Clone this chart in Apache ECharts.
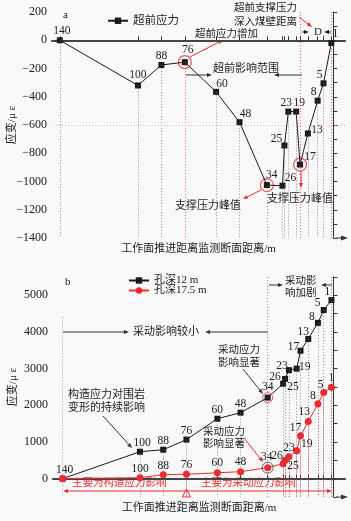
<!DOCTYPE html>
<html>
<head>
<meta charset="utf-8">
<script src="https://cdn.jsdelivr.net/npm/echarts@6/dist/echarts.min.js"></script>
<style>
html,body{margin:0;padding:0;background:#f9f9f9;}
#main{width:351px;height:521px;}
</style>
</head>
<body>
<div id="main"></div>
<script>
var FONT = '"Liberation Serif","Noto Sans CJK SC",serif';
var RED = '#ee2a2f';
var DARK = '#1a1a1a';

// 图a 超前应力
var distA = [140, 100, 88, 76, 60, 48, 34, 26, 25, 23, 19, 17, 13, 8, 5, 1];
var strainA = [0, -320, -175, -155, -365, -580, -1025, -1030, -745, -505, -505, -880, -660, -428, -305, -20];

// 图b 孔深12 m / 孔深17.5 m
var distB = [140, 100, 88, 76, 60, 48, 34, 26, 25, 23, 19, 17, 13, 8, 5, 1];
var strainB12 = [0, 735, 790, 1065, 1635, 1800, 2210, 2590, 2720, 2960, 3000, 3490, 3810, 4250, 4600, 4870];
var strainB175 = [0, 25, 110, 120, 160, 190, 300, 410, 500, 600, 760, 1170, 1560, 2040, 2350, 2490];

var circledA = [76, 34, 17];
var circledB = [34];

// label offsets (style only)
var offA = [[2,-9],[0,-10],[0,-9],[3,-12],[6,-8],[6,-8],[5,-10],[8,-8],[-8,-6],[-2,-9],[3,-9],[10,-8],[9,-3],[-4,-9],[-4,-8],[4,-9]];
var offB12 = [null,[2,-9],[0,-9],[0,-9],[0,-9],[0,-9],[0,-11],[-8,-7],[8,8],[-7,-4],[8,-2],[-7,-4],[-5,-7],[-6,-6],[-6,-7],[-4,-8]];
var offB175 = [[2,-9],[0,-9],[0,-9],[0,-9],[0,-10],[0,-10],[-1,-11],[-6,-8],[8,6],[0,-9],[10,-7],[-5,-8],[-4,-9],[-5,-8],[-3,-8],[0,-9]];

function pts(dist, vals, offs){
    var out = [];
    for (var i = 0; i < dist.length; i++) {
        var o = offs[i];
        out.push({value: [dist[i], vals[i]], label: o ? {offset: o} : {show: false}});
    }
    return out;
}
function pick(dist, vals, keys){
    var out = [];
    for (var i = 0; i < dist.length; i++) {
        if (keys.indexOf(dist[i]) >= 0) out.push([dist[i], vals[i]]);
    }
    return out;
}
function drop(d, top, bottom, color){
    return [{coord: [d, top], lineStyle: {color: color, type: [1, 2], width: 0.8, opacity: 0.9}}, {coord: [d, bottom]}];
}

// drop lines, chart a
var dropA = [];
for (var i = 0; i < distA.length; i++) {
    var d = distA[i];
    if (d == 76) dropA.push(drop(d, strainA[i], -1400, RED));
    else if (d == 17 || d == 1) dropA.push(drop(d, 200, -1400, RED));
    else dropA.push(drop(d, strainA[i], -1400, '#666'));
}
dropA.push({yAxis: -600, lineStyle: {color: '#f2a0a0', type: [1, 2], width: 0.8}});

// drop lines, chart b
var dropB12 = [], dropB175 = [];
for (var i = 0; i < distB.length; i++) {
    var d = distB[i];
    if (d == 140) dropB12.push(drop(d, 4400, -500, '#888'));
    else if (d == 34 || d == 1) dropB12.push(drop(d, 5500, -500, '#666'));
    else dropB12.push(drop(d, strainB12[i], -500, '#666'));
    if (d == 76 || d <= 26) dropB175.push(drop(d, strainB175[i], -500, RED));
}

function arrow(x1, y1, x2, y2, color, h, w){
    var a = Math.atan2(y2 - y1, x2 - x1);
    h = h || 5; w = w || 2;
    var bx = x2 - h * Math.cos(a), by = y2 - h * Math.sin(a);
    var px = -Math.sin(a) * w, py = Math.cos(a) * w;
    return [
        {type: 'line', shape: {x1: x1, y1: y1, x2: bx, y2: by}, style: {stroke: color, lineWidth: 1}},
        {type: 'polygon', shape: {points: [[x2, y2], [bx + px, by + py], [bx - px, by - py]]}, style: {fill: color}}
    ];
}
function txt(x, y, s, color, size){
    return {type: 'text', x: x, y: y, style: {text: s, fill: color || DARK, fontSize: size || 11, fontFamily: FONT, align: 'left', verticalAlign: 'middle'}};
}

var g = [];
// axis arrowheads
g = g.concat(arrow(336, 238, 348, 238, '#333', 7, 2.5));
g = g.concat(arrow(336, 497, 348, 497, '#333', 7, 2.5));
// chart a notes
g.push(txt(63, 15, 'a', DARK, 11));
g.push(txt(234, 8, '超前支撑压力', DARK, 10.5));
g.push(txt(234, 22, '深入煤壁距离', DARK, 10.5));
g = g.concat(arrow(299, 17, 312, 27, RED));
g.push(txt(314, 32, 'D', DARK, 11));
g = g.concat(arrow(302, 32, 309, 32, DARK));
g = g.concat(arrow(331, 32, 324, 32, DARK));
g.push(txt(195, 34, '超前应力增加', DARK, 10.5));
g = g.concat(arrow(190, 57, 223, 40, RED));
g.push(txt(213, 69, '超前影响范围', DARK, 11));
g = g.concat(arrow(186, 75, 212, 75, '#333'));
g = g.concat(arrow(302, 75, 274, 75, '#333'));
g.push(txt(175, 206, '支撑压力峰值', DARK, 11));
g = g.concat(arrow(261, 190, 243, 199, RED));
g.push(txt(267, 199, '支撑压力峰值', DARK, 11));
g = g.concat(arrow(301, 171, 301, 188, RED));
// chart b notes
g.push(txt(65, 282, 'b', DARK, 11));
g.push(txt(133, 332, '采动影响较小', DARK, 11));
g = g.concat(arrow(63, 332, 129, 332, '#333'));
g = g.concat(arrow(268, 332, 205, 332, '#333'));
g.push(txt(285, 281, '采动影', DARK, 10.5));
g.push(txt(285, 293, '响加剧', DARK, 10.5));
g = g.concat(arrow(269, 285, 283, 285, '#333'));
g = g.concat(arrow(332, 285, 321, 285, '#333'));
g.push(txt(218, 350, '采动应力', DARK, 10.5));
g.push(txt(218, 363, '影响显著', DARK, 10.5));
g = g.concat(arrow(243, 369, 263, 394, '#333'));
g.push(txt(203, 432, '采动应力', DARK, 10.5));
g.push(txt(203, 444, '影响显著', DARK, 10.5));
g = g.concat(arrow(244, 438, 263, 462, RED));
g.push(txt(68, 395, '构造应力对围岩', DARK, 11));
g.push(txt(68, 408, '变形的持续影响', DARK, 11));
g = g.concat(arrow(103, 416, 132, 448, '#333'));
g.push(txt(72, 483, '主要为构造应力影响', RED, 10.5));
g = g.concat(arrow(185, 491, 63, 491, RED));
g.push(txt(201, 483, '主要为采动应力影响', RED, 10.5));
g = g.concat(arrow(185, 491, 332, 491, RED));

function xAx(gi, min, max, ticks){
    return {
        type: 'value', gridIndex: gi, inverse: true, min: min, max: max,
        axisLine: {show: true, lineStyle: {color: '#444', width: 2}},
        axisTick: {show: true, inside: true, length: 4, customValues: ticks, lineStyle: {color: '#333'}},
        axisLabel: {show: false},
        splitLine: {show: false},
        name: '工作面推进距离监测断面距离/m', nameLocation: 'middle', nameGap: 6,
        nameTextStyle: {fontFamily: FONT, fontSize: 11, color: DARK, verticalAlign: 'top'}
    };
}
function yAx(gi, min, max, step, labelStep){
    return {
        type: 'value', gridIndex: gi, min: min, max: max, interval: step,
        axisLine: {show: true, lineStyle: {color: '#333', width: 1}},
        axisTick: {show: true, inside: true, length: 4, lineStyle: {color: '#333'}},
        axisLabel: {fontFamily: FONT, fontSize: 12, color: DARK, margin: 5,
            formatter: function(v){ return v % labelStep === 0 ? String(v).replace('-', '\u2212') : ''; }},
        splitLine: {show: false},
        name: '应变/μ ε', nameLocation: 'middle', nameGap: 34, nameRotate: 90, nameMoveOverlap: false,
        nameTextStyle: {fontFamily: FONT, fontSize: 11, color: DARK}
    };
}

var labelBase = {show: true, position: 'inside', fontFamily: FONT, fontSize: 11.5, color: DARK,
    formatter: function(p){ return p.value[0]; }};

var option = {
    backgroundColor: '#f9f9f9',
    animation: false,
    textStyle: {fontFamily: FONT},
    grid: [
        {left: 52, top: 12, width: 293, height: 226, outerBoundsMode: 'none', containLabel: false},
        {left: 53, top: 277, width: 292, height: 220, outerBoundsMode: 'none', containLabel: false}
    ],
    legend: [
        {data: ['超前应力'], left: 102, top: 10, itemWidth: 20, itemHeight: 8, itemGap: 4,
            textStyle: {fontFamily: FONT, fontSize: 11.5, color: DARK}},
        {data: ['孔深12 m', '孔深17.5 m'], orient: 'vertical', left: 123, top: 270, itemWidth: 20, itemHeight: 8, itemGap: -1,
            textStyle: {fontFamily: FONT, fontSize: 11, color: DARK}}
    ],
    xAxis: [xAx(0, -6, 144, distA), xAx(1, -6, 145, distB)],
    yAxis: [yAx(0, -1400, 200, 100, 200), yAx(1, -500, 5500, 500, 1000)],
    graphic: g,
    series: [
        {
            name: '超前应力', type: 'line', xAxisIndex: 0, yAxisIndex: 0,
            data: pts(distA, strainA, offA),
            symbol: 'rect', symbolSize: 6, color: DARK,
            lineStyle: {color: DARK, width: 1},
            label: labelBase,
            markLine: {silent: true, symbol: 'none', label: {show: false}, data: dropA}
        },
        {
            type: 'scatter', xAxisIndex: 0, yAxisIndex: 0, silent: true,
            data: pick(distA, strainA, circledA),
            symbol: 'circle', symbolSize: 13,
            itemStyle: {color: 'transparent', borderColor: RED, borderWidth: 1.2}
        },
        {
            name: '孔深12 m', type: 'line', xAxisIndex: 1, yAxisIndex: 1,
            data: pts(distB, strainB12, offB12),
            symbol: 'rect', symbolSize: 6, color: DARK,
            lineStyle: {color: DARK, width: 1},
            label: labelBase,
            markLine: {silent: true, symbol: 'none', label: {show: false}, data: dropB12}
        },
        {
            name: '孔深17.5 m', type: 'line', xAxisIndex: 1, yAxisIndex: 1,
            data: pts(distB, strainB175, offB175),
            symbol: 'circle', symbolSize: 7, color: RED,
            lineStyle: {color: RED, width: 1},
            label: labelBase,
            markLine: {silent: true, symbol: 'none', label: {show: false}, data: dropB175},
            markPoint: {silent: true, data: [{coord: [76, -390], symbol: 'triangle', symbolSize: 8,
                itemStyle: {color: 'transparent', borderColor: RED, borderWidth: 1}, label: {show: false}}]}
        },
        {
            type: 'scatter', xAxisIndex: 1, yAxisIndex: 1, silent: true, z: 5,
            data: pick(distB, strainB12, circledB),
            symbol: 'circle', symbolSize: 10,
            itemStyle: {color: 'transparent', borderColor: RED, borderWidth: 1}
        },
        {
            type: 'scatter', xAxisIndex: 1, yAxisIndex: 1, silent: true, z: 5,
            data: pick(distB, strainB175, circledB),
            symbol: 'circle', symbolSize: 11,
            itemStyle: {color: 'transparent', borderColor: '#333', borderWidth: 1}
        }
    ]
};

var myChart = echarts.init(document.getElementById('main'));
myChart.setOption(option);
</script>
</body>
</html>
